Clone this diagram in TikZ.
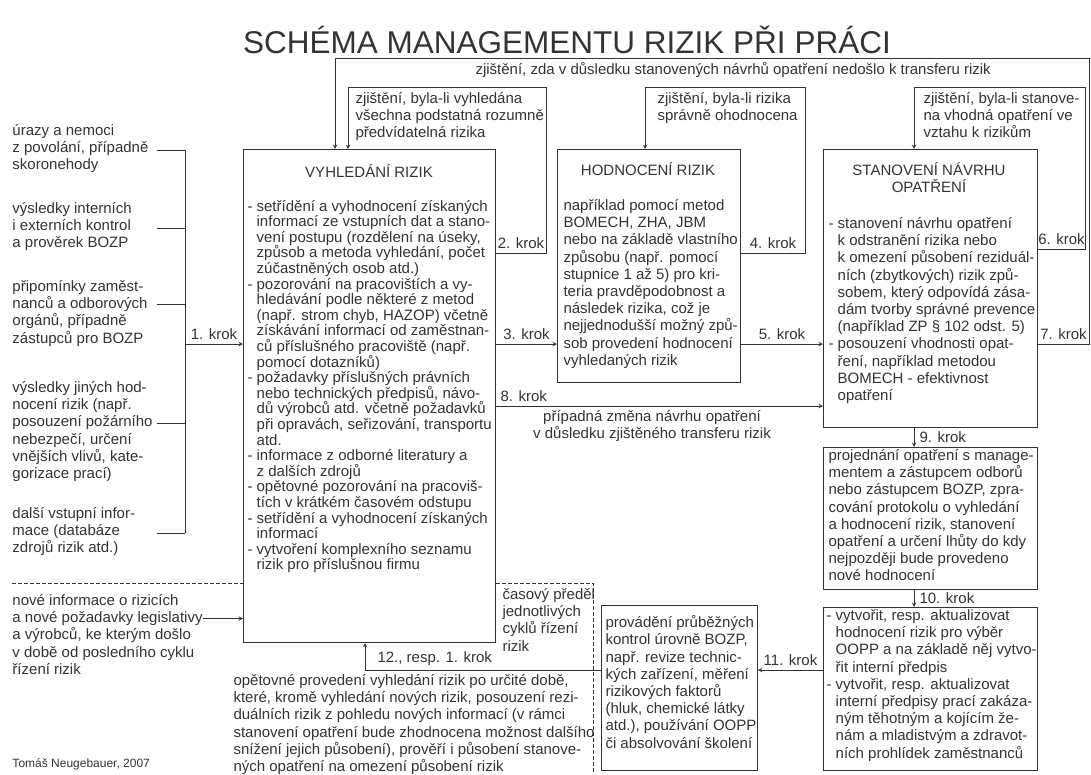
\documentclass[tikz,border=0pt]{standalone}
\usepackage{fontspec}
\setmainfont{Liberation Sans}
\usetikzlibrary{positioning, arrows}
\definecolor{ink}{HTML}{333333}
\newcommand{\ind}{\hphantom{- }}

\begin{document}
\begin{tikzpicture}[x=1pt, y=-1pt]
\tikzset{
line width=1pt, % thickness of all lines
>=stealth, % arrow tips
every node/.style={font=\fontsize{15}{17.2}\selectfont, text=ink, inner sep=0pt},
box/.style={draw=ink, anchor=north west}, % framed boxes, placed by their top left corner
txt/.style={align=left, anchor=north west, execute at begin node=\strut, execute at end node=\strut}, % text blocks
head/.style={align=center, anchor=north, execute at begin node=\strut}, % box titles
krok/.style={above=4pt}, % step labels
link/.style={draw=ink, ->}, % connectors
cut/.style={draw=ink, dash pattern=on 3.5pt off 2.5pt}, % time boundary
}
\useasboundingbox (0,0) rectangle (1091,774);

\node (title) at (567,40) {\fontsize{31.5}{36}\selectfont SCHÉMA MANAGEMENTU RIZIK PŘI PRÁCI};

% input data on the left
\node[txt] (urazy) at (12,124) {úrazy a nemoci\\z povolání, případně\\skoronehody};
\node[txt] (interni) at (12,202) {výsledky interních\\i externích kontrol\\a prověrek BOZP};
\node[txt] (pripom) at (12,280) {připomínky zaměst-\\nanců a odborových\\orgánů, případně\\zástupců pro BOZP};
\node[txt] (jine) at (12,381) {výsledky jiných hod-\\nocení rizik (např.\\posouzení požárního\\nebezpečí, určení\\vnějších vlivů, kate-\\gorizace prací)};
\node[txt] (dalsi) at (12,507) {další vstupní infor-\\mace (databáze\\zdrojů rizik atd.)};
\node[txt] (nove) at (12,594) {nové informace o rizicích\\a nové požadavky legislativy\\a výrobců, ke kterým došlo\\v době od posledního cyklu\\řízení rizik};
\node[anchor=base west, font=\fontsize{12}{14}\selectfont] (autor) at (12,767) {Tomáš Neugebauer, 2007};

% the boxes
\node[box, minimum width=252pt, minimum height=493pt] (vyhl) at (243,149) {};
\node[box, minimum width=183pt, minimum height=233pt] (hodn) at (557,149) {};
\node[box, minimum width=214pt, minimum height=278pt] (stan) at (823,149) {};
\node[box, minimum width=214pt, minimum height=142pt] (proj) at (823,447) {};
\node[box, minimum width=214pt, minimum height=163pt] (oopp) at (823,607) {};
\node[box, minimum width=156pt, minimum height=165pt] (kontr) at (601,605) {};

\node[head] (vyhlhead) at (369,164) {VYHLEDÁNÍ RIZIK};
\node[txt, font=\fontsize{15}{15.6}\selectfont] (vyhltxt) at (247,199.6) {- setřídění a vyhodnocení získaných\\
\ind informací ze vstupních dat a stano-\\
\ind vení postupu (rozdělení na úseky,\\
\ind způsob a metoda vyhledání, počet\\
\ind zúčastněných osob atd.)\\
- pozorování na pracovištích a vy-\\
\ind hledávání podle některé z metod\\
\ind (např. strom chyb, HAZOP) včetně\\
\ind získávání informací od zaměstnan-\\
\ind ců příslušného pracoviště (např.\\
\ind pomocí dotazníků)\\
- požadavky příslušných právních\\
\ind nebo technických předpisů, návo-\\
\ind dů výrobců atd. včetně požadavků\\
\ind při opravách, seřizování, transportu\\
\ind atd.\\
- informace z odborné literatury a\\
\ind z dalších zdrojů\\
- opětovné pozorování na pracoviš-\\
\ind tích v krátkém časovém odstupu\\
- setřídění a vyhodnocení získaných\\
\ind informací\\
- vytvoření komplexního seznamu\\
\ind rizik pro příslušnou firmu};

\node[head] (hodnhead) at (648,162) {HODNOCENÍ RIZIK};
\node[txt] (hodntxt) at (563,199) {například pomocí metod\\BOMECH, ZHA, JBM\\nebo na základě vlastního\\způsobu (např. pomocí\\stupnice 1 až 5) pro kri-\\teria pravděpodobnost a\\následek rizika, což je\\nejjednodušší možný způ-\\sob provedení hodnocení\\vyhledaných rizik};

\node[head] (stanhead) at (929,162) {STANOVENÍ NÁVRHU\\OPATŘENÍ};
\node[txt] (stantxt) at (828,217) {- stanovení návrhu opatření\\
\ind k odstranění rizika nebo\\
\ind k omezení působení reziduál-\\
\ind ních (zbytkových) rizik způ-\\
\ind sobem, který odpovídá zása-\\
\ind dám tvorby správné prevence\\
\ind (například ZP § 102 odst. 5)\\
- posouzení vhodnosti opat-\\
\ind ření, například metodou\\
\ind BOMECH - efektivnost\\
\ind opatření};

\node[txt] (projtxt) at (828,449) {projednání opatření s manage-\\mentem a zástupcem odborů\\nebo zástupcem BOZP, zpra-\\cování protokolu o vyhledání\\a hodnocení rizik, stanovení\\opatření a určení lhůty do kdy\\nejpozději bude provedeno\\nové hodnocení};

\node[txt] (oopptxt) at (826,609) {- vytvořit, resp. aktualizovat\\
\ind hodnocení rizik pro výběr\\
\ind OOPP a na základě něj vytvo-\\
\ind řit interní předpis\\
- vytvořit, resp. aktualizovat\\
\ind interní předpisy prací zakáza-\\
\ind ným těhotným a kojícím že-\\
\ind nám a mladistvým a zdravot-\\
\ind ních prohlídek zaměstnanců};

\node[txt] (kontrtxt) at (605,615) {provádění průběžných\\kontrol úrovně BOZP,\\např. revize technic-\\kých zařízení, měření\\rizikových faktorů\\(hluk, chemické látky\\atd.), používání OOPP\\či absolvování školení};

% feedback texts
\node[anchor=west] (zjistTop) at (475,70) {zjištění, zda v důsledku stanovených návrhů opatření nedošlo k transferu rizik};
\node[txt] (zjist2) at (355,92) {zjištění, byla-li vyhledána\\všechna podstatná rozumně\\předvídatelná rizika};
\node[txt] (zjist4) at (657,92) {zjištění, byla-li rizika\\správně ohodnocena};
\node[txt] (zjist6) at (923,92) {zjištění, byla-li stanove-\\na vhodná opatření ve\\vztahu k rizikům};
\node[align=center, anchor=north, execute at begin node=\strut] (transfer) at (652,410) {případná změna návrhu opatření\\v důsledku zjištěného transferu rizik};
\node[txt] (predel) at (502,588) {časový předěl\\jednotlivých\\cyklů řízení\\rizik};
\node[txt] (znovu) at (233,674) {opětovné provedení vyhledání rizik po určité době,\\které, kromě vyhledání nových rizik, posouzení rezi-\\duálních rizik z pohledu nových informací (v rámci\\stanovení opatření bude zhodnocena možnost dalšího\\snížení jejich působení), prověří i působení stanove-\\ných opatření na omezení působení rizik};

% levels and corners of the connectors
\coordinate (bus) at (185,0);
\coordinate (tick) at (157,0);
\coordinate (r1) at (0,344);
\coordinate (r2) at (0,253);
\coordinate (r6) at (0,249);
\coordinate (r8) at (0,406);
\coordinate (r11) at (0,670);
\coordinate (c2) at (546,87);
\coordinate (c4) at (805,87);
\coordinate (c6) at (1085,87);
\coordinate (cT) at (1089,58);
\coordinate (dT) at (335,0);
\coordinate (d2) at (348,0);
\coordinate (d4) at (645,0);
\coordinate (d6) at (914,0);
\coordinate (d12) at (365,0);

% inputs joined on one bus
\draw[draw=ink] (urazy.east -| tick) -- (urazy.east -| bus);
\draw[draw=ink] (interni.east -| tick) -- (interni.east -| bus);
\draw[draw=ink] ([yshift=9.75pt]pripom.east -| tick) -- ([yshift=9.75pt]pripom.east -| bus);
\draw[draw=ink] ([yshift=9.75pt]jine.east -| tick) -- ([yshift=9.75pt]jine.east -| bus);
\draw[draw=ink] (dalsi.east -| tick) -- (dalsi.east -| bus);
\draw[draw=ink] (urazy.east -| bus) -- (dalsi.east -| bus);
\draw[link] (bus |- r1) -- node[krok] {1. krok} (vyhl.west |- r1);
\draw[link] ([yshift=18.5pt]nove.east) -- ([yshift=18.5pt]nove.east -| vyhl.west);

% steps
\draw[link] (vyhl.east |- r2) -| node[krok, pos=0.25] {2. krok} (c2) -| (vyhl.north -| d2);
\draw[link] (vyhl.east |- r1) -- node[krok] {3. krok} (hodn.west |- r1);
\draw[link] (hodn.east |- r2) -| node[krok, pos=0.25] {4. krok} (c4) -| (hodn.north -| d4);
\draw[link] (hodn.east |- r1) -- node[krok] {5. krok} (stan.west |- r1);
\draw[link] (stan.east |- r6) -| node[krok, pos=0.25] {6. krok} (c6) -| (stan.north -| d6);
\draw[link] (stan.east |- r1) -| node[krok, pos=0.25] {7. krok} (cT) -| (vyhl.north -| dT);
\draw[link] (vyhl.east |- r8) -- node[krok, pos=0, anchor=south west, xshift=4pt] {8. krok} (stan.west |- r8);
\draw[link] (stan.south -| d6) -- node[right=5pt] {9. krok} (proj.north -| d6);
\draw[link] (proj.south -| d6) -- node[right=5pt] {10. krok} (oopp.north -| d6);
\draw[link] (oopp.west |- r11) -- node[krok] {11. krok} (kontr.east |- r11);
\draw[link] (kontr.west |- r11) -| node[krok, pos=0.5, anchor=south west, xshift=12pt] {12., resp. 1. krok} (vyhl.south -| d12);

% boundary between the cycles
\draw[cut] (0,583) ++(12,0) -- (vyhl.west |- 0,583);
\draw[cut] (vyhl.east |- 0,583) -- (593,583) -- (593,774);
\end{tikzpicture}
\end{document}
